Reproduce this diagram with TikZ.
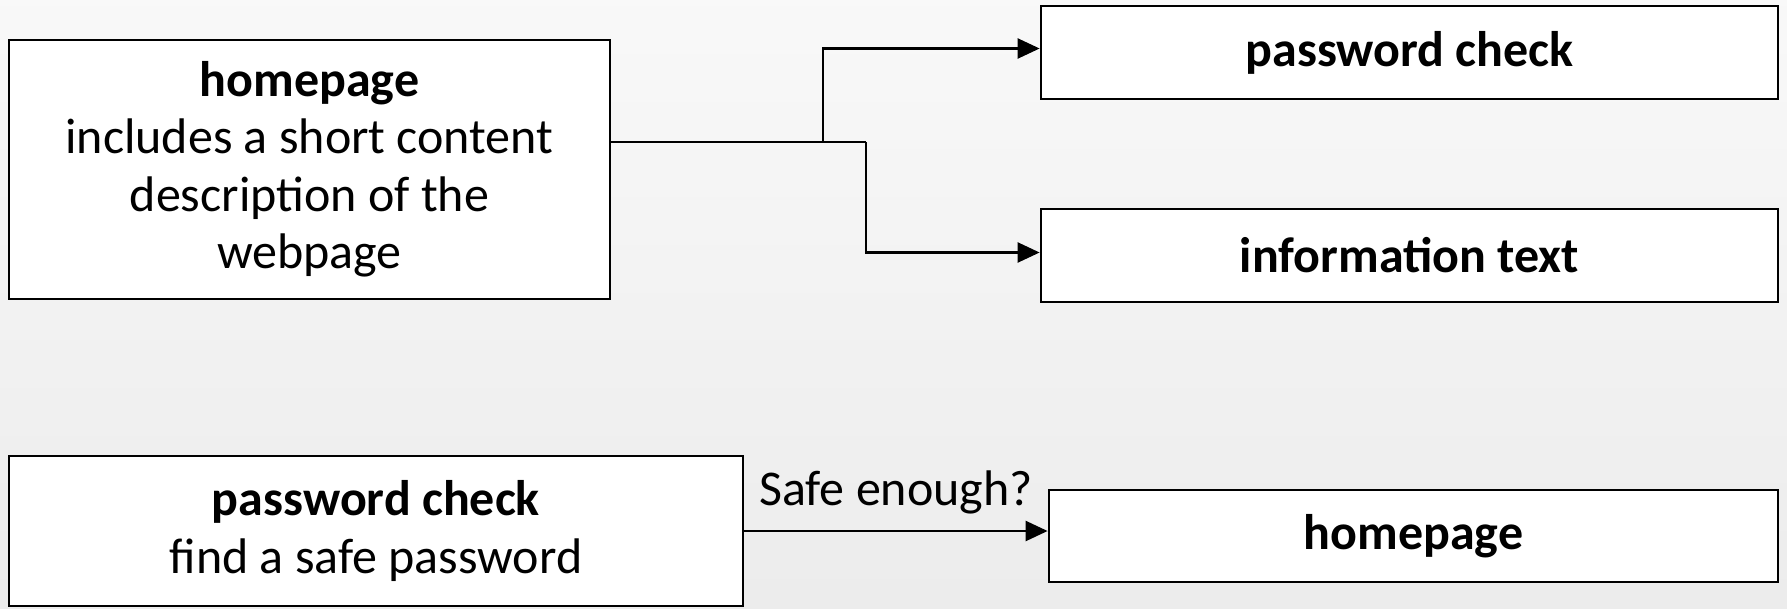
\documentclass[tikz,border=0pt]{standalone}
\usepackage{fontspec}
\setmainfont{Carlito}
\usetikzlibrary{arrows.meta,calc}
\begin{document}
\begin{tikzpicture}[x=1pt,y=-1pt,
  box/.style={draw=black,line width=2.8pt,fill=white,inner sep=0pt,align=center,
    font=\fontsize{50}{57.5}\selectfont},
  arr/.style={line width=2.4pt,-{Triangle[length=22pt,width=20pt]}},
  conn/.style={line width=2.4pt}]
\shade[top color=gray!5,bottom color=gray!15] (0,0) rectangle (1787,608);
\useasboundingbox (0,0) rectangle (1787,608);
\node[box,minimum width=601pt,minimum height=259pt] (hp) at (309.5,169.5)
  {\textbf{homepage}\\includes a short content\\description of the\\webpage};
\node[box,minimum width=737pt,minimum height=93pt] (pw1) at (1409.5,52.5) {\textbf{password check}};
\node[box,minimum width=737pt,minimum height=93pt] (info) at (1409.5,255.5) {\textbf{information text}};
\node[box,minimum width=734pt,minimum height=150pt] (pw2) at (376,531)
  {\textbf{password check}\\find a safe password};
\node[box,minimum width=729pt,minimum height=92pt] (hp2) at (1413.5,536) {\textbf{homepage}};
\coordinate (j1) at (823,142);
\coordinate (j2) at (866,142);
\draw[conn] (hp.east |- j1) -- (j2);
\draw[arr] (j1) |- ($(pw1.west)+(0,-4)$);
\draw[arr] (j2) |- ($(info.west)+(0,-3)$);
\draw[arr] (pw2.east) -- (pw2.east -| hp2.west) node[pos=0.5,above=12pt,font=\fontsize{50}{57}\selectfont] (lbl) {Safe enough?};
\end{tikzpicture}
\end{document}
